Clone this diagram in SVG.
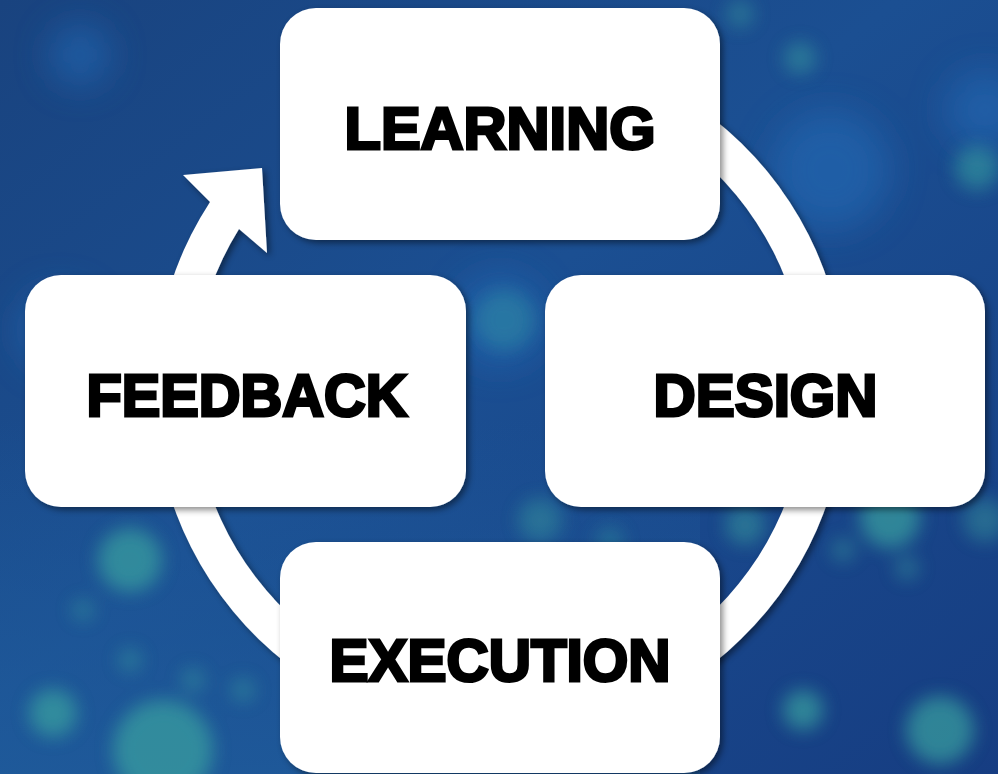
<svg xmlns="http://www.w3.org/2000/svg" width="998" height="774" viewBox="0 0 998 774">
  <defs>
    <linearGradient id="bg" x1="0" y1="0" x2="1" y2="1">
      <stop offset="0" stop-color="#19437f"/>
      <stop offset="0.45" stop-color="#1b4f92"/>
      <stop offset="1" stop-color="#163d82"/>
    </linearGradient>
    <linearGradient id="bgLow" x1="0" y1="0" x2="0" y2="1">
      <stop offset="0" stop-color="#1f5c9c" stop-opacity="0"/>
      <stop offset="1" stop-color="#1f5c9c" stop-opacity="0.8"/>
    </linearGradient>
    <filter id="blur" x="-30%" y="-30%" width="160%" height="160%">
      <feGaussianBlur stdDeviation="9"/>
    </filter>
    <filter id="blurBig" x="-30%" y="-30%" width="160%" height="160%">
      <feGaussianBlur stdDeviation="18"/>
    </filter>
    <filter id="shadow" x="-10%" y="-10%" width="125%" height="125%">
      <feDropShadow dx="3" dy="3" stdDeviation="3" flood-color="#000" flood-opacity="0.45"/>
    </filter>
    <style>
      .box { fill: #ffffff; filter: url(#shadow); }
      .label { font-family: "Liberation Sans", Arial, sans-serif; font-weight: bold; font-size: 60px; fill: #000; stroke: #000; stroke-width: 3; stroke-linejoin: miter; }
      .teal { fill: #3aa3a0; }
      .lb { fill: #2466b0; }
    </style>
  </defs>

  <!-- background -->
  <g id="background">
    <rect x="0" y="0" width="998" height="774" fill="url(#bg)"/>
    <rect x="0" y="420" width="700" height="354" fill="url(#bgLow)"/>
    <g filter="url(#blurBig)" opacity="0.7">
      <circle class="lb" cx="830" cy="170" r="60"/>
      <circle class="lb" cx="985" cy="110" r="40"/>
      <circle class="lb" cx="80" cy="55" r="30"/>
      <circle class="lb" cx="500" cy="320" r="45"/>
      <circle class="lb" cx="470" cy="690" r="60"/>
      <circle class="lb" cx="60" cy="330" r="40"/>
    </g>
    <g filter="url(#blur)" opacity="0.7">
      <circle class="teal" cx="130" cy="560" r="32"/>
      <circle class="teal" cx="53" cy="713" r="24"/>
      <circle class="teal" cx="163" cy="750" r="50"/>
      <circle class="teal" cx="83" cy="610" r="11" opacity="0.6"/>
      <circle class="teal" cx="130" cy="660" r="12" opacity="0.6"/>
      <circle class="teal" cx="193" cy="680" r="12" opacity="0.6"/>
      <circle class="teal" cx="243" cy="690" r="12" opacity="0.6"/>
      <circle class="teal" cx="890" cy="518" r="30"/>
      <circle class="teal" cx="940" cy="730" r="34"/>
      <circle class="teal" cx="803" cy="710" r="20"/>
      <circle class="teal" cx="843" cy="550" r="12" opacity="0.6"/>
      <circle class="teal" cx="907" cy="568" r="12" opacity="0.6"/>
      <circle class="teal" cx="800" cy="58" r="16" opacity="0.7"/>
      <circle class="teal" cx="977" cy="168" r="22" opacity="0.8"/>
      <circle class="teal" cx="740" cy="14" r="14" opacity="0.6"/>
      <circle class="teal" cx="505" cy="320" r="30" opacity="0.5"/>
      <circle class="teal" cx="540" cy="520" r="22" opacity="0.6"/>
      <circle class="teal" cx="745" cy="525" r="20" opacity="0.7"/>
      <circle class="teal" cx="985" cy="520" r="22" opacity="0.6"/>
      <circle class="teal" cx="610" cy="540" r="14" opacity="0.5"/>
    </g>
  </g>

  <!-- connectors: cycle ring with arrowhead -->
  <g id="connectors">
    <path d="M 500 45 A 346 346 0 1 1 210 202 L 183 175 L 262 168 L 267 253 L 239 229 A 307 307 0 1 0 500 84 Z" fill="#ffffff" filter="url(#shadow)"/>
  </g>

  <!-- nodes -->
  <g id="node-learning">
    <rect class="box" x="280" y="8" width="440" height="232" rx="36" ry="36"/>
    <text class="label" x="344.5" y="148.5" textLength="311" lengthAdjust="spacingAndGlyphs">LEARNING</text>
  </g>
  <g id="node-design">
    <rect class="box" x="545" y="275" width="440" height="232" rx="36" ry="36"/>
    <text class="label" x="653.5" y="415.5" textLength="224" lengthAdjust="spacingAndGlyphs">DESIGN</text>
  </g>
  <g id="node-execution">
    <rect class="box" x="280" y="542" width="440" height="231" rx="36" ry="36"/>
    <text class="label" x="329.5" y="680.5" textLength="341" lengthAdjust="spacingAndGlyphs">EXECUTION</text>
  </g>
  <g id="node-feedback">
    <rect class="box" x="25" y="275" width="441" height="232" rx="36" ry="36"/>
    <text class="label" x="86.5" y="415.5" textLength="321" lengthAdjust="spacingAndGlyphs">FEEDBACK</text>
  </g>
</svg>
